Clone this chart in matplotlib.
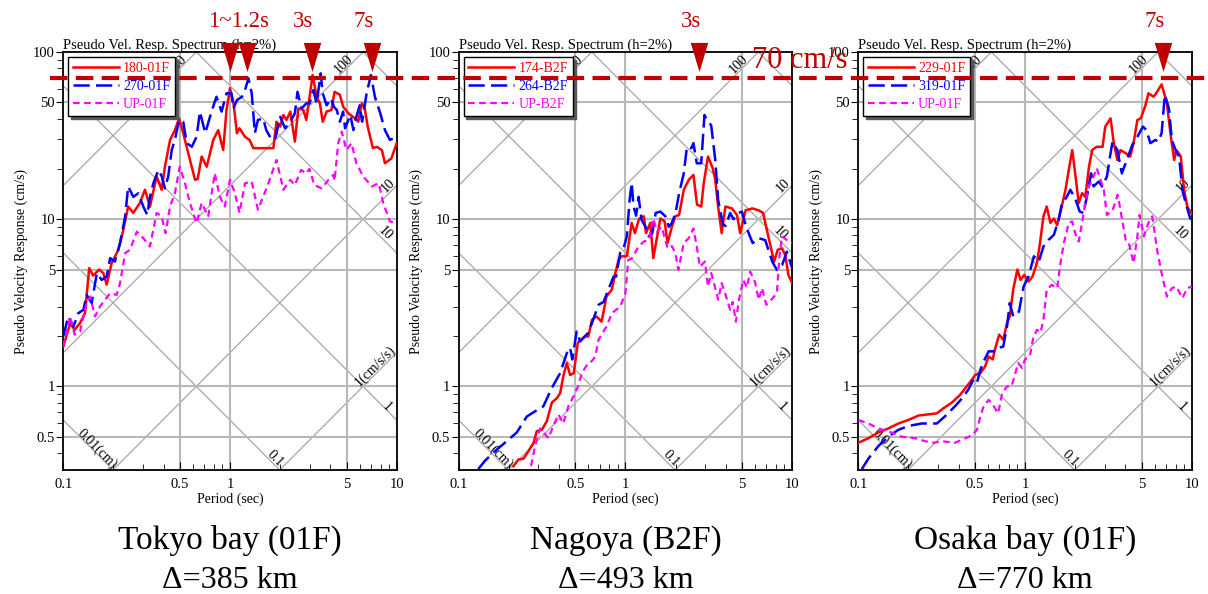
import numpy as np
import matplotlib.pyplot as plt
from matplotlib.ticker import NullFormatter
from matplotlib.transforms import blended_transform_factory
from matplotlib.lines import Line2D

plt.rcParams['font.family'] = ['Liberation Serif', 'DejaVu Serif']

# === Datos (periodo s, velocidad cm/s) ===
# Tokyo bay (01F)
tokyo_180_T = [0.1, 0.11, 0.117, 0.126, 0.135, 0.143, 0.151, 0.164, 0.174, 0.182, 0.195, 0.214, 0.229, 0.245, 0.263,
               0.288, 0.309, 0.331, 0.363, 0.389, 0.407, 0.437, 0.467, 0.495, 0.524, 0.562, 0.617, 0.64, 0.676, 0.725,
               0.794, 0.85, 0.91, 0.953, 1.0, 1.05, 1.1, 1.14, 1.23, 1.31, 1.38, 1.47, 1.62, 1.82, 1.9,
               2.0, 2.09, 2.18, 2.3, 2.45, 2.57, 2.75, 2.87, 3.13, 3.31, 3.46, 3.6, 3.8, 4.06, 4.24,
               4.56, 4.77, 5.13, 5.6, 5.88, 6.18, 6.43, 6.7, 7.2, 7.6, 8.15, 8.5, 9.3, 10]
tokyo_180_V = [1.73, 2.39, 2.18, 2.39, 2.75, 5.1, 4.6, 5.0, 4.75, 4.06, 5.46, 6.56, 8.63, 11.9, 10.9,
               12.5, 15, 11.9, 18, 15, 20.6, 29.8, 34.1, 40.1, 32.7, 24.8, 17.2, 17.4, 23.7, 20.6,
               29.8, 34.1, 25.9, 45, 60.7, 49.3, 32.7, 35, 31.1, 29.8, 26.6, 26.6, 26.6, 26.6, 38.3,
               35.8, 42, 39.2, 44, 29.1, 46, 45, 39.2, 72.8, 54, 49.3, 38.3, 44, 45, 57.8,
               55.5, 47.1, 43, 40.1, 38.3, 49.3, 46, 35.8, 26.6, 27.1, 25.9, 21.6, 23.1, 28.5]
tokyo_270_T = [0.1, 0.107, 0.115, 0.123, 0.132, 0.138, 0.148, 0.159, 0.17, 0.182, 0.191, 0.204, 0.219, 0.235, 0.245,
               0.263, 0.282, 0.302, 0.319, 0.331, 0.347, 0.372, 0.39, 0.407, 0.426, 0.447, 0.467, 0.495, 0.524, 0.55,
               0.59, 0.63, 0.66, 0.71, 0.78, 0.83, 0.89, 0.953, 1.02, 1.05, 1.1, 1.18, 1.23, 1.29, 1.35,
               1.41, 1.47, 1.58, 1.65, 1.78, 1.87, 2.0, 2.14, 2.3, 2.45, 2.54, 2.69, 2.87, 3.0, 3.16,
               3.31, 3.5, 3.6, 3.8, 4.04, 4.2, 4.37, 4.56, 4.77, 4.9, 5.27, 5.5, 5.73, 6.0, 6.2,
               6.6, 7.0, 7.4, 7.97, 8.5, 9.1, 10]
tokyo_270_V = [1.99, 2.62, 2.28, 2.74, 2.87, 3.53, 3.15, 4.76, 4.33, 4.54, 5.85, 5.58, 7.2, 10.4, 15.7,
               13.6, 14.3, 11.9, 10.6, 13.6, 16.4, 19.7, 18, 15.3, 18, 25.9, 29.8, 39.2, 38.3, 28.5,
               27.1, 31.1, 44, 32.7, 45, 54, 44, 56.6, 56.6, 46, 51.6, 54, 59.2, 69.5, 56.6,
               32.7, 39.2, 40.1, 34.1, 29.8, 30.5, 41, 35, 38.3, 43, 57.8, 46, 49.3, 49.3, 59.2,
               49.3, 74.5, 56.6, 48, 52.8, 47, 45, 38.3, 44, 35, 42, 34.1, 41, 48, 38.3,
               56.6, 72.8, 54, 43, 34.1, 29.8, 31.1]
tokyo_up_T = [0.1, 0.11, 0.117, 0.126, 0.138, 0.145, 0.155, 0.166, 0.178, 0.191, 0.209, 0.219, 0.235, 0.251, 0.276,
              0.302, 0.331, 0.363, 0.389, 0.41, 0.437, 0.467, 0.5, 0.537, 0.575, 0.63, 0.676, 0.74, 0.81, 0.87,
              0.93, 1.0, 1.07, 1.14, 1.23, 1.35, 1.47, 1.58, 1.7, 1.9, 2.09, 2.3, 2.45, 2.67, 2.87,
              3.0, 3.2, 3.55, 3.9, 4.17, 4.24, 4.46, 4.68, 5.0, 5.35, 5.73, 6.3, 7.1, 7.8, 8.3, 9.1, 10]
tokyo_up_V = [1.73, 2.62, 2.04, 2.13, 3.15, 3.45, 2.62, 3.0, 3.3, 3.6, 3.53, 4.15, 6.27, 6.56, 8.43,
              7.7, 6.86, 10.9, 10.4, 8.25, 11.9, 14.3, 20.6, 16.4, 12.5, 9.47, 12.5, 10.4, 18.8, 13.6,
              11.9, 17.2, 14.3, 10.9, 16.4, 16.8, 11.4, 13.6, 16.4, 22.6, 15, 17.2, 16, 19.7, 18.8,
              20, 16, 15.3, 17.2, 18.4, 17, 28.5, 33.4, 25.9, 28.5, 21.6, 18, 15.7, 16.4, 12.5, 9.7, 9.47]

# Nagoya (B2F)
nagoya_174_T = [0.213, 0.228, 0.245, 0.262, 0.281, 0.294, 0.315, 0.338, 0.362, 0.388, 0.406, 0.424, 0.445, 0.466, 0.49,
                0.518, 0.542, 0.57, 0.6, 0.63, 0.67, 0.72, 0.77, 0.83, 0.87, 0.91, 0.95, 1.02, 1.09, 1.14,
                1.21, 1.29, 1.33, 1.41, 1.47, 1.55, 1.62, 1.72, 1.79, 1.9, 1.99, 2.1, 2.24, 2.4, 2.56,
                2.69, 2.85, 2.95, 3.13, 3.34, 3.46, 3.6, 3.78, 3.98, 4.36, 4.67, 4.88, 5.26, 5.79, 6.3,
                6.7, 7.2, 7.8, 8.2, 8.7, 9.1, 9.5, 10]
nagoya_174_V = [0.333, 0.365, 0.37, 0.41, 0.46, 0.54, 0.55, 0.62, 0.80, 0.85, 0.91, 1.15, 1.38, 1.17, 1.2,
                1.82, 1.9, 1.99, 1.99, 2.5, 2.62, 2.44, 3.45, 3.8, 4.76, 5.7, 6.0, 6.0, 9.5, 8.25,
                10.1, 10.4, 8.25, 9.5, 5.85, 7.87, 10.1, 9.7, 7.2, 9.0, 10.4, 10.6, 15, 17.2, 18.4,
                12.2, 11.9, 16.4, 23.7, 20.2, 17.2, 11.9, 8.25, 11.9, 11.6, 10.6, 8.25, 11.3, 11.6, 11.3,
                10.9, 7.9, 5.58, 6.56, 6.7, 6.1, 4.64, 4.15]
nagoya_264_T = [0.131, 0.144, 0.165, 0.194, 0.223, 0.256, 0.294, 0.322, 0.362, 0.406, 0.445, 0.466, 0.48, 0.51, 0.535,
                0.56, 0.6, 0.64, 0.69, 0.74, 0.79, 0.85, 0.88, 0.93, 0.97, 1.02, 1.06, 1.09, 1.12, 1.16,
                1.2, 1.25, 1.32, 1.38, 1.45, 1.52, 1.62, 1.74, 1.82, 1.9, 2.0, 2.1, 2.24, 2.34, 2.49,
                2.56, 2.68, 2.85, 2.98, 3.13, 3.27, 3.46, 3.6, 3.85, 4.0, 4.25, 4.45, 4.78, 5.0, 5.3,
                5.8, 6.3, 6.9, 7.6, 8.1, 8.7, 9.3, 10]
nagoya_264_V = [0.32, 0.36, 0.41, 0.47, 0.53, 0.66, 0.72, 0.76, 0.98, 1.2, 1.58, 1.7, 1.45, 2.13, 1.86,
                1.95, 2.1, 2.5, 3.08, 3.2, 3.8, 4.54, 4.54, 6.3, 6.56, 7.9, 13, 16.5, 11.9, 10.5,
                13.6, 9.9, 9.0, 7.9, 8.25, 10.9, 11.1, 10.4, 9.0, 9.5, 10.9, 14.3, 18.8, 27.1, 26.6,
                28.5, 21.6, 21.6, 42, 38.3, 36.5, 22.6, 13, 9.3, 9.1, 10.9, 10, 10.9, 11.1, 9.0,
                7.2, 7.7, 7.5, 5.58, 4.98, 5.3, 6.4, 5.1]
nagoya_up_T = [0.213, 0.268, 0.287, 0.308, 0.345, 0.37, 0.396, 0.424, 0.455, 0.488, 0.52, 0.548, 0.59, 0.63, 0.66,
               0.69, 0.77, 0.83, 0.93, 1.0, 1.04, 1.09, 1.2, 1.29, 1.38, 1.47, 1.55, 1.65, 1.79, 1.9,
               1.99, 2.08, 2.24, 2.4, 2.56, 2.68, 2.8, 3.0, 3.13, 3.27, 3.4, 3.6, 3.78, 4.0, 4.25,
               4.4, 4.6, 4.8, 5.1, 5.35, 5.6, 6.0, 6.3, 6.6, 7.0, 7.5, 8.1, 8.4, 8.7, 9.3, 10]
nagoya_up_V = [0.31, 0.31, 0.44, 0.56, 0.49, 0.58, 0.68, 0.60, 0.76, 0.87, 1.0, 1.2, 1.35, 1.42, 1.51,
               1.9, 2.28, 2.74, 3.0, 3.6, 5.7, 5.8, 6.86, 7.35, 7.5, 10.1, 8.4, 9.0, 6.7, 6.9,
               6.3, 4.98, 7.2, 7.7, 8.8, 6.86, 5.2, 5.58, 3.95, 4.76, 4.15, 3.3, 4.15, 3.5, 2.87,
               3.2, 2.44, 3.3, 4.33, 3.9, 4.86, 4.2, 3.3, 3.87, 3.08, 3.3, 3.6, 6.0, 7.9, 7.5, 7.2]

# Osaka bay (01F)
osaka_229_T = [0.1, 0.115, 0.132, 0.151, 0.174, 0.2, 0.23, 0.263, 0.296, 0.324, 0.364, 0.408, 0.447, 0.481, 0.502,
               0.54, 0.577, 0.605, 0.64, 0.66, 0.7, 0.74, 0.78, 0.81, 0.85, 0.9, 0.94, 0.99, 1.05, 1.11,
               1.18, 1.23, 1.29, 1.35, 1.42, 1.49, 1.56, 1.66, 1.75, 1.83, 1.92, 2.0, 2.1, 2.2, 2.3,
               2.42, 2.53, 2.69, 2.92, 3.03, 3.26, 3.41, 3.58, 3.74, 4.02, 4.28, 4.48, 4.72, 4.95, 5.28,
               5.5, 5.9, 6.2, 6.6, 7.1, 7.5, 7.85, 8.1, 8.6, 9.0, 9.4, 10]
osaka_229_V = [0.46, 0.49, 0.53, 0.56, 0.6, 0.63, 0.67, 0.68, 0.69, 0.74, 0.80, 0.89, 1.0, 1.1, 1.17,
               1.2, 1.32, 1.51, 1.45, 1.66, 2.04, 1.9, 2.39, 2.62, 3.8, 5.0, 4.33, 4.64, 4.24, 4.54,
               5.5, 7.2, 10.4, 11.9, 9.5, 10.1, 9.2, 11.9, 15, 19.7, 25.9, 18.8, 12.5, 14.3, 13.6,
               20.6, 25.9, 27.1, 27.1, 35.8, 40.1, 28.5, 22.6, 25.9, 24.8, 23.7, 28.5, 39.2, 40.1, 48,
               56.6, 54, 57.8, 64, 49.3, 31.1, 22.6, 25.9, 23.7, 15, 11.9, 10.8]
osaka_319_T = [0.105, 0.115, 0.132, 0.151, 0.174, 0.2, 0.24, 0.296, 0.33, 0.38, 0.42, 0.458, 0.49, 0.515, 0.54,
               0.565, 0.605, 0.65, 0.69, 0.74, 0.78, 0.81, 0.85, 0.92, 0.98, 1.05, 1.13, 1.21, 1.29, 1.38,
               1.49, 1.59, 1.66, 1.78, 1.87, 2.0, 2.13, 2.24, 2.35, 2.49, 2.58, 2.77, 2.9, 3.1, 3.26,
               3.35, 3.58, 3.81, 4.08, 4.4, 4.72, 5.1, 5.35, 5.65, 6.05, 6.3, 6.6, 6.9, 7.3, 7.6,
               8.0, 8.4, 8.8, 9.2, 9.8, 10]
osaka_319_V = [0.32, 0.37, 0.44, 0.5, 0.55, 0.58, 0.6, 0.6, 0.66, 0.76, 0.85, 0.96, 1.1, 1.05, 1.26,
               1.41, 1.62, 1.62, 1.7, 1.73, 2.28, 3.15, 2.62, 2.8, 3.95, 4.54, 6.0, 5.58, 6.86, 7.5,
               8.06, 9.9, 12.2, 13.6, 15, 13.3, 11.1, 10.9, 13.6, 18.8, 15.7, 16.8, 15.7, 18.0, 24.8,
               29.1, 25.9, 18.8, 22.6, 27.8, 31.1, 35.8, 34.1, 28.5, 29.8, 29.1, 32.7, 55.5, 46, 29.8,
               25.9, 23.7, 15, 12.5, 10.1, 10.0]
osaka_up_T = [0.1, 0.115, 0.132, 0.151, 0.182, 0.219, 0.252, 0.282, 0.317, 0.38, 0.44, 0.48, 0.515, 0.54, 0.565,
              0.605, 0.65, 0.69, 0.73, 0.78, 0.83, 0.875, 0.91, 0.96, 1.0, 1.07, 1.12, 1.18, 1.24, 1.29,
              1.35, 1.45, 1.56, 1.62, 1.71, 1.83, 1.92, 2.0, 2.1, 2.2, 2.3, 2.42, 2.58, 2.69, 2.84,
              2.97, 3.1, 3.35, 3.6, 3.74, 4.02, 4.2, 4.48, 4.72, 4.87, 5.17, 5.5, 5.8, 6.2, 6.6,
              7.1, 7.6, 8.1, 8.8, 9.4, 10]
osaka_up_V = [0.63, 0.6, 0.56, 0.54, 0.5, 0.49, 0.47, 0.46, 0.47, 0.46, 0.49, 0.51, 0.55, 0.66, 0.76,
              0.83, 0.76, 0.69, 0.91, 1.0, 1.0, 1.2, 1.38, 1.29, 1.45, 1.51, 1.95, 2.18, 2.1, 2.5,
              3.8, 4.05, 3.87, 5.2, 7.2, 9.5, 9.7, 8.25, 7.35, 9.5, 12.5, 15.7, 18.0, 20.2, 17.2,
              15, 10.6, 11.3, 14.0, 11.3, 7.5, 7.2, 5.46, 7.9, 10.6, 7.9, 9.5, 10.4, 6.56, 4.76,
              3.45, 3.87, 3.95, 3.37, 3.87, 3.95]

tokyo_labels = ["180-01F", "270-01F", "UP-01F"]
nagoya_labels = ["174-B2F", "264-B2F", "UP-B2F"]
osaka_labels = ["229-01F", "319-01F", "UP-01F"]

site_names = ["Tokyo bay (01F)", "Nagoya (B2F)", "Osaka bay (01F)"]
site_dist = ["Δ=385 km", "Δ=493 km", "Δ=770 km"]

# marcas de periodo predominante (triangulos)
marker_periods = [[1.0, 1.26, 3.12, 7.08], [2.77], [6.7]]
marker_texts = [[("1~1.2s", 1.12), ("3s", 2.75), ("7s", 6.3)], [("3s", 2.48)], [("7s", 6.0)]]
nivel_vel = 70  # cm/s

disp_lines = [0.01, 0.1, 1, 10, 100]       # cm
acc_lines = [1, 10, 100, 1000, 10000]      # cm/s/s

panels = [
    (tokyo_180_T, tokyo_180_V, tokyo_270_T, tokyo_270_V, tokyo_up_T, tokyo_up_V, tokyo_labels),
    (nagoya_174_T, nagoya_174_V, nagoya_264_T, nagoya_264_V, nagoya_up_T, nagoya_up_V, nagoya_labels),
    (osaka_229_T, osaka_229_V, osaka_319_T, osaka_319_V, osaka_up_T, osaka_up_V, osaka_labels),
]

# === Figura ===
W, H = 1208, 594
fig = plt.figure(figsize=(W / 100, H / 100), dpi=100)
lefts = [63.3, 458.7, 858.3]
dark_red = '#c00000'
tri = [(-0.3, 0.5), (0.3, 0.5), (0.0, -0.5)]
grid_c = '#b8b8b8'
diag_c = '#a6a6a6'

axes = []
for i, left in enumerate(lefts):
    ax = fig.add_axes([left / W, (H - 470) / H, 333.4 / W, 418 / H])
    axes.append(ax)
    t1, v1, t2, v2, t3, v3, labs = panels[i]

    ax.set_xscale('log')
    ax.set_yscale('log')
    ax.set_xlim(0.1, 10)
    ax.set_ylim(10 ** -0.5, 100)

    # grilla tripartita
    tt = np.array([0.05, 20.0])
    for d in disp_lines:
        ax.plot(tt, 2 * np.pi * d / tt, color=diag_c, lw=0.9, zorder=1)
    for a in acc_lines:
        ax.plot(tt, a * tt / (2 * np.pi), color=diag_c, lw=0.9, zorder=1)
    for y in [0.5, 1, 5, 10, 50]:
        ax.axhline(y, color=grid_c, lw=1.5, zorder=1)
    for x in [0.5, 1, 5]:
        ax.axvline(x, color=grid_c, lw=1.5, zorder=1)

    diag_txt = [("0.01(cm)", 0.16, 0.42, -45), ("0.1", 1.87, 0.37, -45), ("1", 8.7, 0.75, -45),
                ("10", 8.5, 8.2, -45), ("1(cm/s/s)", 7.4, 1.32, 45), ("10", 8.9, 15.8, 45),
                ("100", 4.8, 85, 45), ("1000", 0.47, 82, 45)]
    for s, x, y, r in diag_txt:
        ax.text(x, y, s, rotation=r, ha='center', va='center', fontsize=10, zorder=3,
                rotation_mode='anchor')

    ax.plot(t1, v1, color='red', lw=1.8, label=labs[0], zorder=4)
    ax.plot(t2, v2, color='blue', lw=1.8, dashes=(6.5, 2.5), label=labs[1], zorder=4)
    ax.plot(t3, v3, color='magenta', lw=1.6, dashes=(3, 2), label=labs[2], zorder=4)

    leg = ax.legend(loc='upper left', fontsize=10, handlelength=3.3, handletextpad=0.3,
                    labelspacing=0.38, borderaxespad=0.35, borderpad=0.35, fancybox=False,
                    framealpha=1, edgecolor='black',
                    shadow={'color': '0.35', 'alpha': 1.0})
    leg.get_frame().set_linewidth(1.0)
    leg.set_zorder(6)
    for txt, c in zip(leg.get_texts(), ['red', 'blue', 'magenta']):
        txt.set_color(c)

    ax.set_xticks([0.1, 0.5, 1, 5, 10])
    ax.set_xticklabels(['0.1', '0.5', '1', '5', '10'])
    ax.xaxis.set_minor_formatter(NullFormatter())
    ax.set_yticks([0.5, 1, 5, 10, 50, 100])
    ax.set_yticklabels(['0.5', '1', '5', '10', '50', '100'])
    ax.yaxis.set_minor_formatter(NullFormatter())
    ax.tick_params(axis='x', which='major', direction='in', length=6, labelsize=10.5, pad=6)
    ax.tick_params(axis='x', which='minor', direction='in', length=4)
    ax.tick_params(axis='y', which='major', direction='out', length=5, labelsize=10.5, pad=1)
    ax.tick_params(axis='y', which='minor', direction='out', length=4)
    for sp in ax.spines.values():
        sp.set_linewidth(1.3)

    ax.set_xlabel("Period (sec)", fontsize=10, labelpad=1)
    ax.set_ylabel("Pseudo Velocity Response (cm/s)", fontsize=10, labelpad=4)
    ax.set_title("Pseudo Vel. Resp. Spectrum (h=2%)", loc='left', fontsize=10.5, pad=2)

    # triangulos y etiquetas
    ax.plot(marker_periods[i], [93] * len(marker_periods[i]), linestyle='none', marker=tri,
            ms=21, mew=0, color=dark_red, clip_on=False, zorder=10)
    tr = blended_transform_factory(ax.transData, fig.transFigure)
    for s, x in marker_texts[i]:
        ax.text(x, 1 - 27 / H, s, transform=tr, ha='center', va='baseline', fontsize=16.5,
                color=dark_red)

    cx = (left + 333.4 / 2) / W
    fig.text(cx, 1 - 549 / H, site_names[i], ha='center', va='baseline', fontsize=24)
    fig.text(cx, 1 - 588 / H, site_dist[i], ha='center', va='baseline', fontsize=23)

# linea de 70 cm/s
trl = blended_transform_factory(fig.transFigure, axes[0].transData)
fig.add_artist(Line2D([50 / W, 1.0], [nivel_vel, nivel_vel], transform=trl, color=dark_red,
                      lw=3, dashes=(4.2, 2.0), zorder=20))
fig.text(800 / W, 1 - 68 / H, "70 cm/s", ha='center', va='baseline', fontsize=22, color=dark_red)

fig.savefig("out.png", dpi=100)
